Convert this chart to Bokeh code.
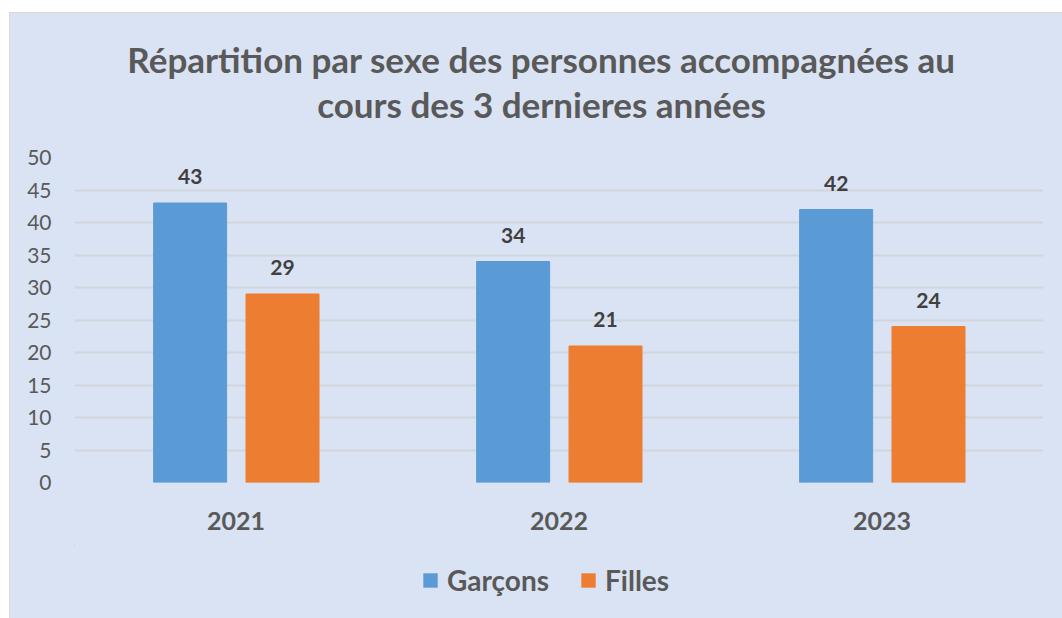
from bokeh.plotting import figure
from bokeh.models import (ColumnDataSource, Legend, LegendItem, LabelSet, Label,
                          SingleIntervalTicker, Range1d)
from bokeh.layouts import column
from bokeh.core.properties import value
from bokeh.transform import dodge
from bokeh.embed import file_html
from bokeh.resources import INLINE

years = ["2021", "2022", "2023"]
garcons = [43, 34, 42]
filles = [29, 21, 24]
y_max = 50
title_lines = ["Répartition par sexe des personnes accompagnées au",
               "cours des 3 dernieres années"]
series_names = ["Garçons", "Filles"]

FONT = "Lato"
TXT = "#595959"
BG = "#DAE3F3"
BLUE = "#5B9BD5"
ORANGE = "#ED7D31"
W = 1052


def strip(height, y_top, y_bottom):
    f = figure(width=W, height=height, x_range=Range1d(74, 1043),
               y_range=Range1d(y_bottom, y_top), output_backend="svg",
               toolbar_location=None, title=None, min_border=0)
    f.border_fill_color = BG
    f.background_fill_color = BG
    f.outline_line_color = None
    f.axis.visible = False
    f.grid.visible = False
    return f


src = ColumnDataSource(dict(years=years, garcons=garcons, filles=filles,
                            gl=[str(v) for v in garcons], fl=[str(v) for v in filles]))

# title strip (page y 13..145)
p0 = strip(132, 13, 145)
for i, line in enumerate(title_lines):
    p0.add_layout(Label(x=541, y=58 + 45 * i, text=line, text_align="center",
                        text_baseline="middle", text_font=FONT, text_font_size="35px",
                        text_font_style="bold", text_color=TXT))

p = figure(x_range=years, y_range=Range1d(0, y_max), width=W, height=400,
           output_backend="svg", toolbar_location=None, title=None,
           min_border_left=64, min_border_right=19, min_border_top=12, min_border_bottom=63)
p.border_fill_color = BG
p.background_fill_color = BG
p.outline_line_color = None

rb = p.vbar(x=dodge("years", -0.142, range=p.x_range), top="garcons", width=0.226,
            source=src, color=BLUE)
ro = p.vbar(x=dodge("years", 0.144, range=p.x_range), top="filles", width=0.226,
            source=src, color=ORANGE)

for col, lab, off in (("garcons", "gl", -0.142), ("filles", "fl", 0.144)):
    ls = LabelSet(x=dodge("years", off, range=p.x_range), y=col, text=lab, source=src,
                  text_align="center", text_baseline="bottom", y_offset=19,
                  text_font=value(FONT), text_font_size=value("21px"),
                  text_font_style="bold", text_color="#404040")
    p.add_layout(ls)

p.yaxis.ticker = SingleIntervalTicker(interval=5)
p.yaxis.axis_line_color = None
p.yaxis.major_tick_line_color = None
p.yaxis.minor_tick_line_color = None
p.yaxis.major_label_text_font = FONT
p.yaxis.major_label_text_font_size = "21px"
p.yaxis.major_label_text_color = TXT
p.yaxis.major_label_standoff = 17

p.xaxis.axis_line_color = None
p.xaxis.major_tick_line_color = None
p.xaxis.major_label_text_font = FONT
p.xaxis.major_label_text_font_size = "25px"
p.xaxis.major_label_text_font_style = "bold"
p.xaxis.major_label_text_color = TXT
p.xaxis.major_label_standoff = 23

p.xgrid.grid_line_color = None
p.ygrid.grid_line_color = "#D2D6DC"
p.ygrid.grid_line_width = 2

# legend strip (page y 545..618); proxy bars have zero height so only the legend shows
p2 = strip(73, 545, 618)
lb = p2.vbar(x="garcons", bottom="garcons", top="garcons", width=0.1, source=src,
             fill_color=BLUE, line_color=None)
lo = p2.vbar(x="filles", bottom="filles", top="filles", width=0.1, source=src,
             fill_color=ORANGE, line_color=None)
legend = Legend(items=[LegendItem(label=series_names[0], renderers=[lb]),
                       LegendItem(label=series_names[1], renderers=[lo])],
                orientation="horizontal", location=(347, 21),
                background_fill_alpha=0, border_line_color=None,
                label_text_font=FONT, label_text_font_size="28px",
                label_text_font_style="bold", label_text_color=TXT,
                glyph_width=18, glyph_height=18, spacing=30, label_standoff=8,
                padding=0, margin=0)
p2.add_layout(legend, "center")

layout = column(p0, p, p2, spacing=0, margin=(12, 0, 0, 9),
                styles={"border-left": "1px solid #D9D9D9", "border-top": "1px solid #D9D9D9",
                        "background-color": BG})

open("out.html", "w").write(file_html(layout, INLINE))
